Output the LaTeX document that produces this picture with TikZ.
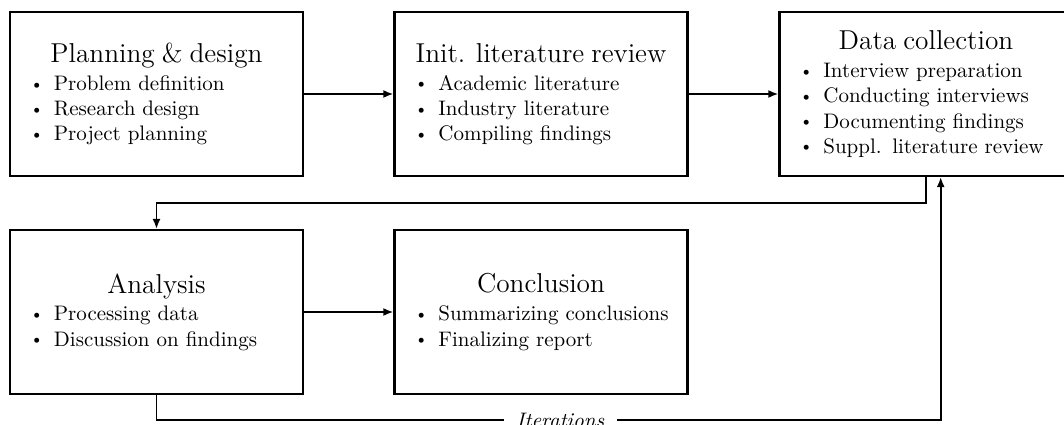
\documentclass[tikz,border=0pt]{standalone}
\usetikzlibrary{arrows.meta}

\newcommand{\stagetitle}[1]{{\centering\fontsize{13}{15}\selectfont #1\par}\vspace{1.3pt}}
\newcommand{\stageitem}[1]{\makebox[11.4pt][l]{\raisebox{0.6pt}{\footnotesize\textbullet}}\mbox{#1}\par}

\begin{document}
\begin{tikzpicture}[
        x=0.476pt, y=-0.476pt,
        stage/.style={draw, line width=1pt, minimum height=78pt, text width=120.5pt, inner xsep=9.5pt, align=left},
        flow/.style={draw, line width=0.9pt, -{Latex[length=4.8pt,width=3.8pt]}},
        iterlabel/.style={fill=white, font=\itshape, inner xsep=6pt, inner ysep=1pt}
    ]
    \clip (0,0) rectangle (1064,425);

    % First row
    \node[stage] (plan) at (156.5,94) {\stagetitle{Planning \& design}
        \stageitem{Problem definition}
        \stageitem{Research design}
        \stageitem{Project planning}};
    \node[stage] (lit) at (541,94) {\stagetitle{Init. literature review}
        \stageitem{Academic literature}
        \stageitem{Industry literature}
        \stageitem{Compiling findings}};
    \node[stage] (data) at (926,94) {\stagetitle{Data collection}
        \stageitem{Interview preparation}
        \stageitem{Conducting interviews}
        \stageitem{Documenting findings}
        \stageitem{Suppl. literature review}};

    % Second row
    \node[stage] (ana) at (156.5,312) {\stagetitle{Analysis}
        \stageitem{Processing data}
        \stageitem{Discussion on findings}};
    \node[stage] (concl) at (541,312) {\stagetitle{Conclusion}
        \stageitem{Summarizing conclusions}
        \stageitem{Finalizing report}};

    % Turning points
    \coordinate (loopturn) at (0,203);
    \coordinate (iterturn) at (0,420);
    \coordinate (dataentry) at ([xshift=7pt]data.south);

    \draw[flow] (plan) -- (lit);
    \draw[flow] (lit) -- (data);
    \draw[flow] (ana) -- (concl);

    \draw[flow] (data.south) |- (loopturn -| ana.north) -- (ana.north);
    \draw[flow] (ana.south) -- (iterturn -| ana.south)
        -- node[iterlabel, pos=0.515] {Iterations} (iterturn -| dataentry) -- (dataentry);

\end{tikzpicture}
\end{document}
